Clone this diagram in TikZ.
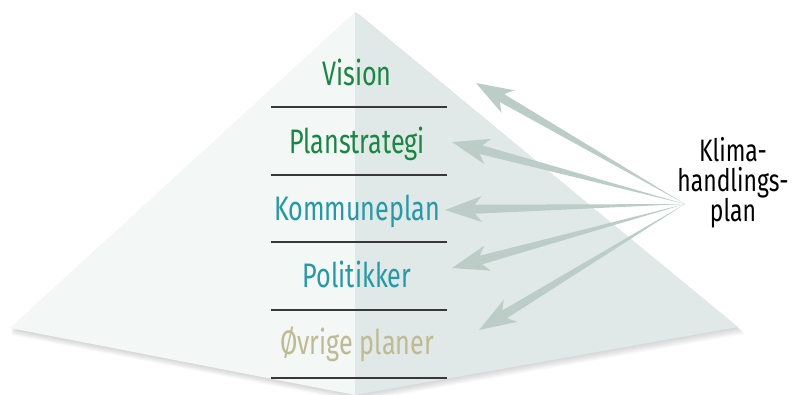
\documentclass[tikz,border=0pt]{standalone}
\usepackage{fontspec}
\setmainfont[FakeStretch=0.74]{Fira Sans}
\usetikzlibrary{calc}

\definecolor{faceleft}{HTML}{F3F7F6}
\definecolor{faceright}{HTML}{E0E9E7}
\definecolor{levelgreen}{HTML}{1B8544}
\definecolor{levelteal}{HTML}{2698A6}
\definecolor{levelkhaki}{HTML}{BFBA92}
\definecolor{arrowgrey}{HTML}{BCCDC8}

\begin{document}
\begin{tikzpicture}[x=1pt,y=-1pt,
    level/.style={font=\fontsize{34}{34}\selectfont, inner sep=0pt, anchor=base},
    divider/.style={line width=1.6pt, draw=black!78},
    arrowfill/.style={fill=arrowgrey}]
  \useasboundingbox (0,0) rectangle (798,394);

  % Pyramid corners
  \coordinate (apex) at (355,12);
  \coordinate (left) at (10,328);
  \coordinate (front) at (355,395);
  \coordinate (right) at (738,327);

  % Soft shadow
  \foreach \d in {1,2,...,7}
    \fill[black, opacity=0.025] ($(apex)+(0.6*\d,0.3*\d)$) -- ($(left)+(0.2*\d,\d)$)
      -- ($(front)+(0.3*\d,\d)$) -- ($(right)+(\d,\d)$) -- cycle;

  % Faces
  \fill[faceleft] (apex) -- (left) -- (front) -- cycle;
  \fill[faceright] (apex) -- (front) -- (right) -- cycle;

  % Dividers
  \foreach \y in {107,175,242,310,378}
    \draw[divider] (271,\y) -- (447,\y);

  % Levels
  \node[level, text=levelgreen] (vision) at (357,85) {Vision};
  \node[level, text=levelgreen] (planstrategi) at (357,153) {Planstrategi};
  \node[level, text=levelteal] (kommuneplan) at (357,220) {Kommuneplan};
  \node[level, text=levelteal] (politikker) at (357,287) {Politikker};
  \node[level, text=levelkhaki] (ovrige) at (357,354) {Øvrige planer};

  % Klimahandlingsplan
  \node[font=\fontsize{31}{30}\selectfont, align=center, inner sep=0pt]
    (klima) at (733,183) {Klima-\\handlings-\\plan};
  \coordinate (src) at (685,204);

  % Arrow tips
  \coordinate (tv) at (476,83);
  \coordinate (tp) at (452,142);
  \coordinate (tk) at (445,210);
  \coordinate (tpo) at (452,268);
  \coordinate (to) at (479,330);

  % Arrows
  \foreach \t in {tv,tp,tk,tpo,to}{
    \path ($(\t)!30pt!(src)$) coordinate (sh) ($(\t)!37pt!(src)$) coordinate (bb);
    \fill[arrowfill] (src) -- ($(sh)!4.5pt!90:(src)$) -- ($(bb)!13pt!90:(src)$) -- (\t)
      -- ($(bb)!13pt!-90:(src)$) -- ($(sh)!4.5pt!-90:(src)$) -- cycle;
  }

\end{tikzpicture}
\end{document}
